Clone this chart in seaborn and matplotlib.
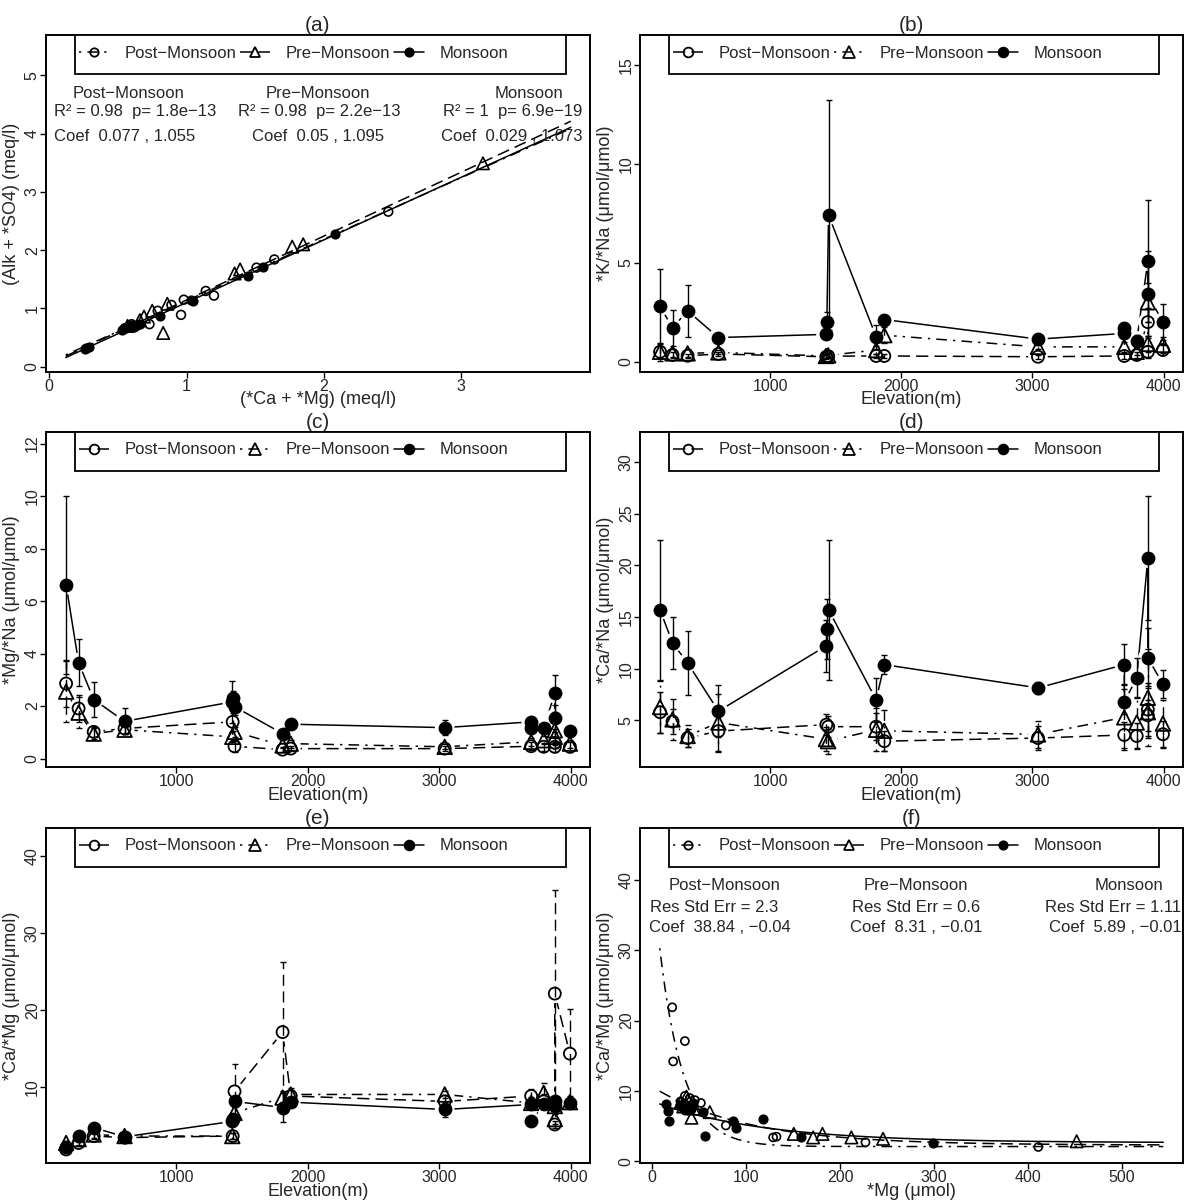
import numpy as np
import pandas as pd
import matplotlib
matplotlib.use("Agg")
import matplotlib.pyplot as plt
from matplotlib.lines import Line2D
from matplotlib.patches import Rectangle
import seaborn as sns

# ---------------- panel (a): (Alk + *SO4) vs (*Ca + *Mg), meq/l
a_post_x = [0.27, 0.55, 0.60, 0.73, 0.79, 0.89, 0.96, 0.98, 1.14, 1.20, 1.51, 1.64, 2.47]
a_post_y = [0.31, 0.66, 0.73, 0.73, 0.96, 1.06, 0.89, 1.15, 1.30, 1.22, 1.70, 1.84, 2.66]
a_pre_x = [0.57, 0.66, 0.69, 0.75, 0.83, 0.86, 1.35, 1.39, 1.77, 1.85, 3.16]
a_pre_y = [0.70, 0.80, 0.86, 0.96, 0.58, 1.08, 1.60, 1.67, 2.06, 2.10, 3.49]
a_mon_x = [0.26, 0.29, 0.53, 0.56, 0.58, 0.60, 0.62, 0.64, 0.66, 0.81, 1.03, 1.05, 1.45, 1.56, 2.08]
a_mon_y = [0.30, 0.34, 0.63, 0.66, 0.69, 0.71, 0.68, 0.71, 0.74, 0.87, 1.15, 1.12, 1.56, 1.71, 2.27]
# linear fits: intercept, slope
a_fit = {"post": (0.077, 1.055), "pre": (0.05, 1.095), "mon": (0.029, 1.073)}
a_fit_range = (0.12, 3.8)

# ---------------- site elevations (m) for panels (b)-(e)
elev_post = [160, 255, 370, 605, 1428, 1442, 1808, 1870, 3042, 3700, 3795, 3880, 3880, 3995]
elev_pre = [160, 255, 370, 605, 1425, 1442, 1808, 1870, 3042, 3700, 3795, 3880, 3880, 3995]
elev_mon = [160, 255, 370, 605, 1425, 1432, 1445, 1808, 1870, 3042, 3700, 3700, 3795, 3880, 3880, 3995]

# ---------------- panel (b): *K/*Na
b_post = [0.50, 0.34, 0.30, 0.39, 0.25, 0.28, 0.29, 0.29, 0.25, 0.29, 0.34, 2.00, 0.50, 0.59]
b_post_sd = [0.3, 0.15, 0.1, 0.1, 0.1, 0.1, 0.1, 0.1, 0.1, 0.15, 0.15, 0.7, 0.3, 0.25]
b_pre = [0.50, 0.42, 0.42, 0.47, 0.29, 0.32, 0.59, 1.34, 0.75, 0.75, 0.50, 3.00, 0.90, 0.85]
b_pre_sd = [0.45, 0.2, 0.2, 0.1, 0.1, 0.1, 0.2, 0.4, 0.1, 0.25, 0.15, 1.0, 0.4, 0.4]
b_mon = [2.80, 1.71, 2.57, 1.22, 1.38, 2.01, 7.40, 1.26, 2.13, 1.14, 1.43, 1.69, 1.05, 5.08, 3.40, 1.99]
b_mon_sd = [1.9, 0.9, 1.3, 0.12, 0.25, 0.5, 5.8, 0.6, 0.2, 0.15, 0.25, 0.25, 0.3, 3.1, 2.2, 0.9]

# ---------------- panel (c): *Mg/*Na
c_post = [2.86, 1.91, 1.02, 1.15, 1.40, 0.47, 0.34, 0.38, 0.38, 0.47, 0.45, 0.45, 0.60, 0.45]
c_post_sd = [0.9, 0.5, 0.2, 0.2, 0.35, 0.2, 0.1, 0.1, 0.1, 0.15, 0.15, 0.2, 0.2, 0.2]
c_pre = [2.55, 1.75, 0.95, 1.10, 0.83, 1.02, 0.50, 0.57, 0.45, 0.64, 0.70, 1.08, 0.83, 0.57]
c_pre_sd = [1.15, 0.6, 0.2, 0.15, 0.2, 0.2, 0.1, 0.15, 0.1, 0.15, 0.15, 0.5, 0.3, 0.15]
c_mon = [6.62, 3.66, 2.25, 1.42, 2.16, 2.29, 1.97, 0.95, 1.31, 1.18, 1.40, 1.15, 1.18, 2.48, 1.53, 1.04]
c_mon_sd = [3.4, 0.9, 0.65, 0.5, 0.8, 0.3, 0.3, 0.15, 0.1, 0.28, 0.15, 0.15, 0.15, 0.7, 0.5, 0.15]

# ---------------- panel (d): *Ca/*Na
d_post = [5.8, 4.9, 3.3, 3.97, 4.6, 4.4, 4.4, 3.0, 3.3, 3.6, 3.5, 6.05, 5.5, 3.67]
d_post_sd = [2.0, 1.2, 0.9, 2.0, 1.0, 1.0, 1.3, 1.0, 1.2, 1.3, 1.3, 2.6, 1.5, 1.3]
d_pre = [6.3, 5.1, 3.5, 4.8, 3.2, 3.0, 4.1, 4.0, 3.65, 5.3, 4.8, 7.2, 5.8, 4.7]
d_pre_sd = [2.5, 2.0, 1.1, 2.8, 1.2, 1.2, 2.1, 2.0, 1.3, 3.2, 2.5, 4.7, 2.5, 2.3]
d_mon = [15.7, 12.5, 10.56, 5.9, 12.2, 13.8, 15.7, 7.0, 10.4, 8.15, 10.4, 6.8, 9.1, 20.7, 11.05, 8.5]
d_mon_sd = [6.8, 2.5, 3.1, 2.5, 2.5, 2.9, 6.8, 2.1, 0.9, 0.6, 2.0, 1.2, 1.9, 6.0, 2.9, 1.35]

# ---------------- panel (e): *Ca/*Mg
e_post = [1.86, 2.7, 3.6, 3.4, 3.6, 9.4, 17.1, 8.8, 8.1, 8.8, 8.1, 5.1, 22.1, 14.3]
e_post_sd = [0.2, 0.3, 0.4, 0.4, 0.4, 3.6, 9.1, 0.8, 0.8, 0.9, 1.0, 0.5, 13.4, 5.8]
e_pre = [2.7, 3.2, 3.8, 3.6, 3.6, 6.6, 8.6, 9.0, 9.0, 7.9, 9.2, 5.8, 7.5, 8.0]
e_pre_sd = [0.3, 0.4, 0.4, 0.5, 0.4, 0.8, 0.8, 0.8, 0.5, 0.8, 1.3, 0.6, 0.6, 0.8]
e_mon = [2.2, 3.6, 4.7, 3.5, 5.5, 5.8, 8.1, 7.3, 8.0, 7.05, 7.7, 5.5, 7.7, 8.1, 7.5, 7.9]
e_mon_sd = [0.3, 0.4, 0.4, 0.5, 0.5, 0.5, 0.6, 1.9, 0.5, 1.0, 0.5, 0.4, 0.5, 0.6, 0.5, 0.5]

# ---------------- panel (f): *Ca/*Mg vs *Mg
f_post_x = [21.3, 34.8, 22.3, 34.8, 40.0, 45.4, 51.8, 78.4, 128.7, 132.3, 227.0, 411.0, 30.0, 36.0]
f_post_y = [21.9, 17.1, 14.2, 9.3, 9.0, 8.7, 8.3, 5.1, 3.4, 3.5, 2.7, 2.04, 8.5, 8.0]
f_pre_x = [30.0, 36.5, 38.0, 41.8, 44.0, 61.3, 150.7, 171.3, 181.2, 212.0, 245.7, 451.8, 33.0]
f_pre_y = [8.3, 9.2, 8.7, 6.2, 7.5, 7.0, 3.9, 3.4, 3.9, 3.4, 3.2, 2.85, 7.8]
f_mon_x = [14.5, 17.0, 18.1, 29.4, 33.0, 34.8, 38.3, 41.8, 43.6, 54.3, 56.0, 85.5, 89.7, 118.0, 158.9, 299.0]
f_mon_y = [8.1, 7.2, 5.7, 8.0, 7.6, 7.3, 7.8, 7.5, 8.3, 7.0, 3.6, 5.7, 4.7, 6.0, 3.5, 2.6]
# exponential fits a*exp(b*x) + c
f_fit = {"post": (38.84, -0.04, 2.1), "pre": (8.31, -0.01, 2.3), "mon": (5.89, -0.0085, 2.65)}
f_fit_range = (8, 544)

labels = ["Post\u2212Monsoon", "Pre\u2212Monsoon", "Monsoon"]

# ---------------- style
sns.set_theme(style="ticks")
plt.rcParams["font.family"] = ["Liberation Sans", "DejaVu Sans"]
plt.rcParams["axes.unicode_minus"] = True

DASH = (0, (8, 4))
DOTDASH = (0, (1.5, 4, 7, 4))
LW = 1.1

fig = plt.figure(figsize=(11.84, 12.01), dpi=100)
W, H = 1184, 1201


def ax_at(left, top, right, bottom):
    ax = fig.add_axes([left / W, 1 - bottom / H, (right - left) / W, (bottom - top) / H])
    ax._px = (right - left, bottom - top)
    return ax


def style(ax, letter, xlabel, ylabel, xlim, ylim, xticks, yticks, styles, msz):
    ax.set_xlim(xlim)
    ax.set_ylim(ylim)
    ax.set_xticks(xticks)
    ax.set_yticks(yticks)
    ax.set_title(f"({letter})", fontsize=15, pad=1.5)
    ax.set_xlabel(xlabel, fontsize=13)
    ax.set_ylabel(ylabel, fontsize=13)
    wpx, hpx = ax._px
    ax.xaxis.set_label_coords(0.5, -28 / hpx)
    ax.xaxis.label.set_va("center")
    ax.yaxis.set_label_coords(-34 / wpx, 0.5)
    ax.yaxis.label.set_va("center")
    ax.tick_params(direction="out", length=4, width=1, pad=1, labelsize=11.5, color="black")
    ax.tick_params(axis="y", labelrotation=90, pad=0.5)
    for lbl in ax.get_yticklabels():
        lbl.set_va("center")
    for sp in ax.spines.values():
        sp.set_visible(True)
        sp.set_linewidth(1.4)
        sp.set_color("black")
    # legend box across the top of the panel
    box_h = 39 / hpx
    ax.add_patch(Rectangle((0.054, 1 - box_h), 0.901, box_h, transform=ax.transAxes,
                           facecolor="white", edgecolor="black", lw=1.3, zorder=9,
                           clip_on=False))
    handles = []
    for (ls, mk, fc) in styles:
        handles.append(Line2D([0], [0], color="black", lw=LW, linestyle=ls, marker=mk,
                              markersize=msz if mk == "o" else msz + 1.5,
                              markerfacecolor=fc, markeredgecolor="black", markeredgewidth=1.3))
    leg = ax.legend(handles, labels, loc="center left",
                    bbox_to_anchor=(0.061, 1 - 18 / hpx), ncol=3, borderaxespad=0,
                    borderpad=0, frameon=False, fontsize=12, handlelength=1.8,
                    handletextpad=0.95, columnspacing=0.2)
    leg.set_zorder(10)


def elev_panel(ax, series):
    # series: list of (elev, vals, sds, marker, facecolor, linestyle, size)
    for ex, v, sd, mk, fc, ls, s in series:
        sns.lineplot(x=ex, y=v, estimator=None, sort=False, color="black", lw=LW,
                     linestyle=ls, ax=ax, zorder=2)
    for ex, v, sd, mk, fc, ls, s in series:
        sns.scatterplot(x=ex, y=v, s=200, color="white", edgecolor="none", ax=ax,
                        zorder=3, legend=False)
    for ex, v, sd, mk, fc, ls, s in series:
        eb = ax.errorbar(ex, v, yerr=sd, fmt="none", ecolor="black", elinewidth=1.0,
                         capsize=2.5, capthick=1.0, zorder=4)
        eb[2][0].set_linestyle(ls)
    for ex, v, sd, mk, fc, ls, s in series:
        sns.scatterplot(x=ex, y=v, marker=mk, s=s, facecolor=fc, edgecolor="black",
                        linewidth=1.3, ax=ax, zorder=5, legend=False)


ax_a = ax_at(46, 35, 590, 372)
ax_b = ax_at(640, 35, 1183, 372)
ax_c = ax_at(46, 432, 590, 767)
ax_d = ax_at(640, 432, 1183, 767)
ax_e = ax_at(46, 828, 590, 1163)
ax_f = ax_at(640, 828, 1183, 1163)

# ---- (a)
xs = np.linspace(*a_fit_range, 50)
for key, ls in [("post", DOTDASH), ("pre", DASH), ("mon", "-")]:
    b0, b1 = a_fit[key]
    sns.lineplot(x=xs, y=b0 + b1 * xs, color="black", lw=LW, linestyle=ls, ax=ax_a, zorder=2)
sns.scatterplot(x=a_post_x, y=a_post_y, marker="o", s=40, facecolor="none", edgecolor="black",
                linewidth=1.2, ax=ax_a, zorder=4)
sns.scatterplot(x=a_pre_x, y=a_pre_y, marker="^", s=80, facecolor="none", edgecolor="black",
                linewidth=1.2, ax=ax_a, zorder=4)
sns.scatterplot(x=a_mon_x, y=a_mon_y, marker="o", s=40, facecolor="black", edgecolor="black",
                linewidth=1.0, ax=ax_a, zorder=4)
style(ax_a, "a", "(*Ca + *Mg) (meq/l)", "(Alk + *SO4) (meq/l)", (-0.024, 3.94), (-0.09, 5.69),
      [0, 1, 2, 3], [0, 1, 2, 3, 4, 5],
      [(DOTDASH, "o", "none"), (DASH, "^", "none"), ("-", "o", "black")], 6)
a_txt = [
    (0.151, 0.827, "Post\u2212Monsoon"), (0.164, 0.772, "R\u00b2 = 0.98  p= 1.8e\u221213"),
    (0.144, 0.700, "Coef  0.077 , 1.055"),
    (0.50, 0.827, "Pre\u2212Monsoon"), (0.502, 0.772, "R\u00b2 = 0.98  p= 2.2e\u221213"),
    (0.50, 0.700, "Coef  0.05 , 1.095"),
    (0.888, 0.827, "Monsoon"), (0.858, 0.772, "R\u00b2 = 1  p= 6.9e\u221219"),
    (0.857, 0.700, "Coef  0.029 , 1.073"),
]
for x, y, t in a_txt:
    ax_a.text(x, y, t, transform=ax_a.transAxes, ha="center", va="center", fontsize=12)

ELEV_STYLES = [(DASH, "o", "none"), (DOTDASH, "^", "none"), ("-", "o", "black")]
XL = (7, 4148)
XT = [1000, 2000, 3000, 4000]


def season_series(post, post_sd, pre, pre_sd, mon, mon_sd):
    return [
        (elev_post, post, post_sd, "o", "none", DASH, 75),
        (elev_pre, pre, pre_sd, "^", "none", DOTDASH, 110),
        (elev_mon, mon, mon_sd, "o", "black", "-", 75),
    ]


# ---- (b)
elev_panel(ax_b, season_series(b_post, b_post_sd, b_pre, b_pre_sd, b_mon, b_mon_sd))
style(ax_b, "b", "Elevation(m)", "*K/*Na (\u03bcmol/\u03bcmol)", XL, (-0.52, 16.5), XT,
      [0, 5, 10, 15], ELEV_STYLES, 7)
# ---- (c)
elev_panel(ax_c, season_series(c_post, c_post_sd, c_pre, c_pre_sd, c_mon, c_mon_sd))
style(ax_c, "c", "Elevation(m)", "*Mg/*Na (\u03bcmol/\u03bcmol)", XL, (-0.32, 12.44), XT,
      [0, 2, 4, 6, 8, 10, 12], ELEV_STYLES, 7)
# ---- (d)
elev_panel(ax_d, season_series(d_post, d_post_sd, d_pre, d_pre_sd, d_mon, d_mon_sd))
style(ax_d, "d", "Elevation(m)", "*Ca/*Na (\u03bcmol/\u03bcmol)", XL, (0.5, 32.9), XT,
      [5, 10, 15, 20, 25, 30], ELEV_STYLES, 7)
# ---- (e)
elev_panel(ax_e, season_series(e_post, e_post_sd, e_pre, e_pre_sd, e_mon, e_mon_sd))
style(ax_e, "e", "Elevation(m)", "*Ca/*Mg (\u03bcmol/\u03bcmol)", XL, (0.1, 43.6), XT,
      [10, 20, 30, 40], ELEV_STYLES, 7)

# ---- (f)
xs = np.linspace(*f_fit_range, 200)
for key, ls in [("post", DOTDASH), ("pre", DASH), ("mon", "-")]:
    p, q, r = f_fit[key]
    sns.lineplot(x=xs, y=p * np.exp(q * xs) + r, color="black", lw=LW, linestyle=ls, ax=ax_f,
                 zorder=2)
sns.scatterplot(x=f_post_x, y=f_post_y, marker="o", s=34, facecolor="none", edgecolor="black",
                linewidth=1.2, ax=ax_f, zorder=4)
sns.scatterplot(x=f_pre_x, y=f_pre_y, marker="^", s=80, facecolor="none", edgecolor="black",
                linewidth=1.2, ax=ax_f, zorder=4)
sns.scatterplot(x=f_mon_x, y=f_mon_y, marker="o", s=40, facecolor="black", edgecolor="black",
                linewidth=1.0, ax=ax_f, zorder=4)
style(ax_f, "f", "*Mg (\u03bcmol)", "*Ca/*Mg (\u03bcmol/\u03bcmol)", (-13, 565), (-0.24, 47.4),
      [0, 100, 200, 300, 400, 500], [0, 10, 20, 30, 40],
      [(DOTDASH, "o", "none"), (DASH, "^", "none"), ("-", "o", "black")], 6)
f_txt = [
    (0.155, 0.827, "Post\u2212Monsoon"), (0.136, 0.762, "Res Std Err = 2.3"),
    (0.147, 0.704, "Coef  38.84 , \u22120.04"),
    (0.508, 0.827, "Pre\u2212Monsoon"), (0.508, 0.762, "Res Std Err = 0.6"),
    (0.508, 0.704, "Coef  8.31 , \u22120.01"),
    (0.90, 0.827, "Monsoon"), (0.871, 0.762, "Res Std Err = 1.11"),
    (0.876, 0.704, "Coef  5.89 , \u22120.01"),
]
for x, y, t in f_txt:
    ax_f.text(x, y, t, transform=ax_f.transAxes, ha="center", va="center", fontsize=12)

fig.savefig("out.png", dpi=100, facecolor="white")
